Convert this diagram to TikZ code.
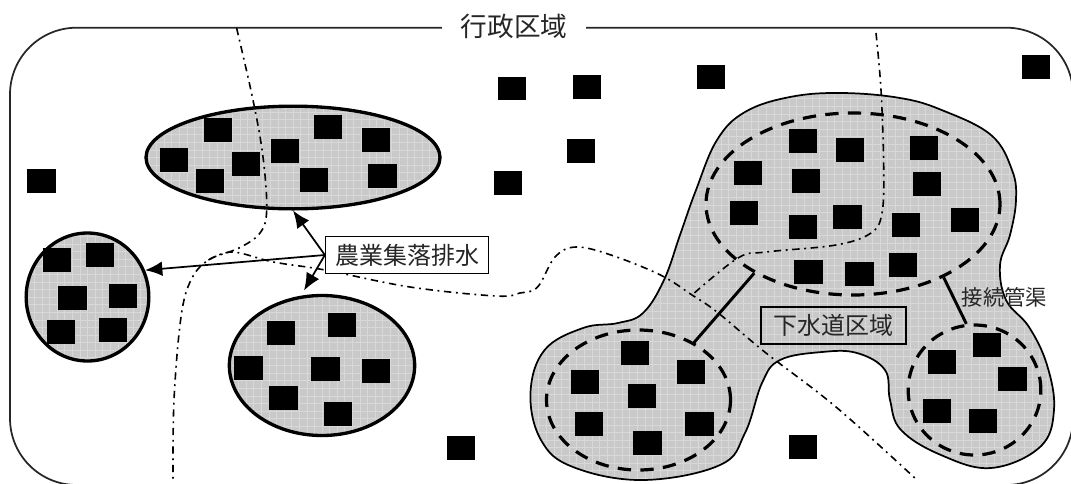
\documentclass[tikz,border=0pt]{standalone}
\usepackage{fontspec}
\newfontfamily\cjk{Noto Sans CJK JP}
\usetikzlibrary{shapes.geometric, arrows.meta}
\definecolor{zonegray}{HTML}{C9C9C9}
\definecolor{zonegrid}{HTML}{D8D8D8}
\tikzset{
  zonefill/.style={fill=zonegray, path picture={\draw [zonegrid, line width=0.4pt, step=0.2cm] (path picture bounding box.south west) grid (path picture bounding box.north east);}},
  hamlet/.style={ellipse, draw=black, line width=2.5pt, zonefill, inner sep=0pt},
  sewerzone/.style={ellipse, draw=black, line width=2.4pt, dash pattern=on 10pt off 7pt, inner sep=0pt},
  house/.style={fill=black, minimum width=21.5pt, minimum height=17.5pt, inner sep=0pt},
  boundary/.style={black, line width=1.2pt, dash pattern=on 5.5pt off 3.5pt on 1.4pt off 3.5pt},
  pipe/.style={black, line width=2.2pt},
  pointer/.style={black, line width=1.3pt, -{Latex[length=13pt, width=11pt]}},
  bigtext/.style={font=\cjk\fontsize{18}{20}\selectfont, text=black!85, inner sep=0pt}
}
\begin{document}
\begin{tikzpicture}[x=0.75pt, y=-0.75pt]
\clip (0, 0) rectangle (1071, 483);
\draw [black!85, line width=1.3pt, rounded corners=50pt] (10, 27.7) rectangle (1073, 485);
\node [fill=white, font=\cjk\fontsize{20}{22}\selectfont, text=black!85, minimum width=108pt, inner sep=1pt] (region) at (514, 26) {行政区域};
\path [zonefill, draw=black, line width=1.3pt] plot [smooth cycle, tension=0.65] coordinates {(841.5, 93) (900, 98) (941.6, 110) (991, 135) (1012, 170) (1016, 200) (1010, 235) (1000, 265) (1006, 300) (1029, 327) (1047, 365) (1054, 410) (1040, 447) (991, 468) (941, 455) (901, 430) (890, 400) (885, 370) (857, 353) (822, 352) (780, 360) (762, 383) (745, 433) (720, 465) (643, 480) (573, 467) (541, 440) (530.5, 393) (544.6, 350) (583, 328) (618, 323) (643, 313) (664, 280) (680, 235) (696, 190) (717, 140) (745, 112) (790, 97)};
\node [hamlet, minimum width=220.5pt, minimum height=77pt] (hamlettop) at (293, 157.5) {};
\node [hamlet, minimum width=92pt, minimum height=96pt] (hamletwest) at (87.5, 297) {};
\node [hamlet, minimum width=139pt, minimum height=105pt] (hamletlow) at (322, 365.5) {};
\draw [boundary] plot [smooth, tension=0.6] coordinates {(236.6, 28) (253, 100) (263, 157) (266.7, 210) (260, 233) (239, 248) (208.5, 260) (191, 280) (181, 317) (174, 400) (173, 480)};
\draw [boundary] plot [smooth, tension=0.6] coordinates {(208.5, 260) (232.5, 252) (273.5, 262) (325, 270) (410, 287) (496, 296) (520, 293) (537.6, 287) (555, 257) (576, 247) (611, 255) (660.5, 275) (692, 295) (717, 312) (766, 353) (836, 407) (917, 480)};
\draw [boundary] plot [smooth, tension=0.6] coordinates {(876, 33) (881, 90) (883.7, 167) (882, 213) (871, 233) (836, 245) (766, 252) (738, 258) (692, 295)};
% single houses
\node [house] (h1) at (41.7, 181) {};
\node [house] (h2) at (512, 88.7) {};
\node [house] (h3) at (508, 183) {};
\node [house] (h4) at (461, 448) {};
\node [house] (h5) at (587, 87) {};
\node [house] (h6) at (711, 77) {};
\node [house] (h7) at (581, 151) {};
\node [house] (h8) at (1036, 67) {};
\node [house] (h9) at (803, 447) {};
% top hamlet
\node [house] (ta) at (218, 130) {};
\node [house] (tb) at (174, 160) {};
\node [house] (tc) at (210, 181) {};
\node [house] (td) at (246, 164) {};
\node [house] (te) at (285, 151) {};
\node [house] (tf) at (328, 127) {};
\node [house] (tg) at (376, 140) {};
\node [house] (th) at (314, 180) {};
\node [house] (ti) at (382.6, 176) {};
% west hamlet
\node [house] (wa) at (57, 260) {};
\node [house] (wb) at (100, 255) {};
\node [house] (wc) at (72.5, 298) {};
\node [house] (wd) at (123, 296) {};
\node [house] (we) at (61, 332) {};
\node [house] (wf) at (113, 330) {};
% low hamlet
\node [house] (la) at (281, 333) {};
\node [house] (lb) at (342, 325) {};
\node [house] (lc) at (248.5, 368) {};
\node [house] (ld) at (325.5, 369) {};
\node [house] (le) at (376, 371) {};
\node [house] (lf) at (283.5, 398) {};
\node [house] (lg) at (338, 414) {};
% sewer area, north
\node [house] (na) at (803, 141) {};
\node [house] (nb) at (850, 150) {};
\node [house] (nc) at (924, 148) {};
\node [house] (nd) at (748, 173) {};
\node [house] (ne) at (806, 181) {};
\node [house] (nf) at (927, 184) {};
\node [house] (ng) at (744, 213) {};
\node [house] (nh) at (803, 227) {};
\node [house] (ni) at (847.5, 217) {};
\node [house] (nj) at (906, 225) {};
\node [house] (nk) at (965, 220) {};
\node [house] (nl) at (808.5, 272) {};
\node [house] (nm) at (859.4, 274) {};
\node [house] (nn) at (903, 265) {};
% sewer area, south west
\node [house] (sa) at (635, 353) {};
\node [house] (sb) at (585, 382) {};
\node [house] (sc) at (691, 372) {};
\node [house] (sd) at (642, 396) {};
\node [house] (se) at (589, 424) {};
\node [house] (sf) at (699.5, 424) {};
\node [house] (sg) at (647.5, 443) {};
% sewer area, south east
\node [house] (ea) at (987, 345) {};
\node [house] (eb) at (942, 362) {};
\node [house] (ec) at (1012.6, 379) {};
\node [house] (ed) at (937, 411) {};
\node [house] (ef) at (983, 421) {};
\node [sewerzone, minimum width=220.5pt, minimum height=136.5pt] (zonenorth) at (853, 204) {};
\node [sewerzone, minimum width=138pt, minimum height=105pt] (zonewest) at (638.5, 400) {};
\node [sewerzone, minimum width=99.5pt, minimum height=97.5pt] (zoneeast) at (974.5, 390) {};
\draw [pipe] (zonenorth.215) -- (zonewest.46);
\draw [pipe] (zonenorth.-39) -- (zoneeast.97);
\node [bigtext, draw=black, line width=1.2pt, minimum width=109pt, minimum height=28pt] (sewerbox) at (833.5, 325.5) {下水道区域};
\node [font=\cjk\fontsize{16}{18}\selectfont, text=black!85, inner sep=0pt] (pipelabel) at (1004.5, 297) {接続管渠};
\node [bigtext, fill=white, draw=black, line width=1.2pt, minimum width=122pt, minimum height=28pt] (farmbox) at (407, 255) {農業集落排水};
\coordinate (lowtip) at (304, 290.5);
\draw [pointer] (farmbox.west) -- (hamlettop.south);
\draw [pointer] (farmbox.west) -- (hamletwest.25);
\draw [pointer] (farmbox.west) -- (lowtip);
\end{tikzpicture}
\end{document}
